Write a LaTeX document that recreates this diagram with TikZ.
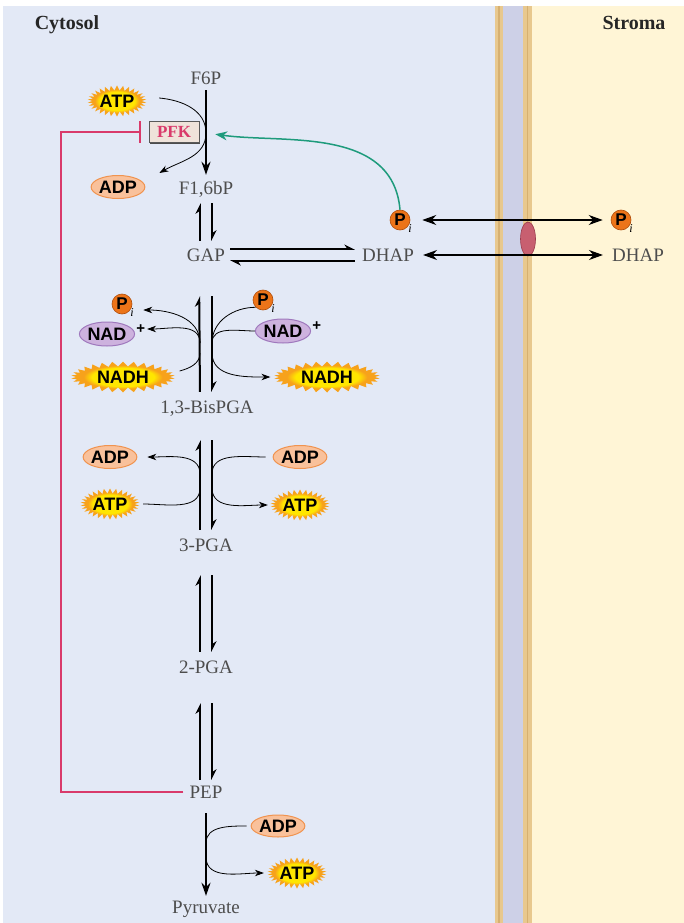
\documentclass[tikz,border=0pt]{standalone}
\usepackage{fontspec}
\setmainfont{Liberation Serif}
\setsansfont{Liberation Sans}
\usetikzlibrary{arrows.meta,shapes.geometric,shapes.symbols,shadows}

\definecolor{cytblue}{HTML}{E3E9F6}
\definecolor{stromacream}{HTML}{FFF5D6}
\definecolor{memlav}{HTML}{CDD0E7}
\definecolor{memorange}{HTML}{E8C88E}
\definecolor{memline}{HTML}{D6B071}
\definecolor{metgray}{HTML}{4D4D4D}
\definecolor{burstyellow}{HTML}{FFE600}
\definecolor{burstorange}{HTML}{F7A21B}
\definecolor{adpfill}{HTML}{F9C19B}
\definecolor{adpdraw}{HTML}{F0934F}
\definecolor{nadfill}{HTML}{CDB2DE}
\definecolor{naddraw}{HTML}{9F78BD}
\definecolor{pifill}{HTML}{EC7419}
\definecolor{pidraw}{HTML}{B04E0C}
\definecolor{pigreen}{HTML}{1E9B7C}
\definecolor{inhred}{HTML}{D93A6B}
\definecolor{pfkfill}{HTML}{EFE3DA}
\definecolor{transred}{HTML}{C85F70}
\definecolor{transdraw}{HTML}{9A3B4C}

\pgfdeclareradialshading{burstshade}{\pgfpoint{0bp}{0bp}}{%
  color(0bp)=(burstyellow); color(15bp)=(burstyellow);
  color(19bp)=(burstorange); color(25bp)=(burstorange); color(50bp)=(burstorange)}

\tikzset{
  met/.style={font=\fontsize{19}{21}\selectfont, text=metgray, inner sep=0pt,
    text height=13pt, text depth=0pt},
  hdr/.style={font=\fontsize{20}{22}\selectfont\bfseries, text=black!85},
  mol/.style={font=\sffamily\bfseries\fontsize{18}{19}\selectfont, text=black, inner sep=0pt},
  burst/.style={mol, shape=starburst, starburst points=30, starburst point height=5pt,
    random starburst=0, shade, shading=burstshade},
  adpnode/.style={mol, ellipse, fill=adpfill, draw=adpdraw, line width=1pt,
    minimum width=50pt, minimum height=23pt},
  nadnode/.style={mol, ellipse, fill=nadfill, draw=naddraw, line width=1pt,
    minimum width=48pt, minimum height=24pt,
    label={[mol, font=\sffamily\bfseries\fontsize{15}{15}\selectfont, anchor=west, label distance=3pt]10:+}},
  pisub/.style={font=\itshape\fontsize{12}{12}\selectfont, inner sep=0pt, anchor=north west},
  pinode/.style={circle, fill=pifill, draw=pidraw, line width=0.6pt, minimum size=20pt,
    inner sep=0pt, font=\sffamily\bfseries\fontsize{17}{17}\selectfont,
    label={[pisub, label distance=-1pt]-30:i}},
  pfkbox/.style={draw=black!65, fill=pfkfill, line width=0.8pt, minimum width=50pt,
    minimum height=21pt, inner sep=0pt, text=inhred,
    font=\fontsize{17}{18}\selectfont\bfseries,
    drop shadow={shadow xshift=1.3pt, shadow yshift=-1.3pt, fill=black!70, opacity=1}},
  carrier/.style={ellipse, fill=transred, draw=transdraw, line width=0.6pt,
    minimum width=15pt, minimum height=34pt, inner sep=0pt},
  mainarr/.style={line width=2pt, -{Stealth[length=13pt,width=9pt]}},
  eqarr/.style={line width=2pt, -{Stealth[harpoon,length=9pt,width=9pt]}},
  side/.style={line width=0.8pt},
  sidearr/.style={line width=0.8pt, -{Stealth[length=9pt,width=6.5pt]}},
  trarr/.style={line width=1.5pt, {Stealth[length=14pt,width=10pt]}-{Stealth[length=14pt,width=10pt]}},
  greenarr/.style={draw=pigreen, line width=1.5pt, -{Stealth[length=12pt,width=9pt]}},
  inhib/.style={draw=inhred, line width=2pt, -{Bar[width=21pt]}}
}

\begin{document}
\begin{tikzpicture}[x=1pt,y=1pt]

% 背景与膜
\useasboundingbox (0,0) rectangle (684,-923);
\fill[white] (0,0) rectangle (684,-923);
\fill[cytblue] (3,-6) rectangle (495,-923);
\fill[memorange] (495,-6) rectangle (503,-923);
\fill[memlav] (503,-6) rectangle (523,-923);
\fill[memorange] (523,-6) rectangle (532,-923);
\fill[stromacream] (532,-6) rectangle (684,-923);
\draw[memline, line width=1.2pt] (499,-6) -- (499,-923);
\draw[memline, line width=1.2pt] (527.5,-6) -- (527.5,-923);

% 标题
\node[hdr] (cyt) at (67,-25) {Cytosol};
\node[hdr] (str) at (634,-23) {Stroma};

% 主链代谢物
\node[met] (f6p)   at (206,-78)  {F6P};
\node[met] (f16bp) at (206,-188) {F1,6bP};
\node[met] (gap)   at (206,-255) {GAP};
\node[met] (dhap)  at (388,-255) {DHAP};
\node[met] (bpga)  at (207,-407) {1,3-BisPGA};
\node[met] (pga3)  at (206,-545) {3-PGA};
\node[met] (pga2)  at (206,-667) {2-PGA};
\node[met] (pep)   at (206,-792) {PEP};
\node[met] (pyr)   at (206,-907) {Pyruvate};
\node[met] (dhaps) at (638,-255) {DHAP};

% 磷酸转运体
\node[pinode] (pil) at (400,-220) {P};
\node[pinode] (pis) at (621,-220) {P};
\node[carrier] (trans) at (528,-239) {};

% PFK 步骤
\node[burst, minimum width=58pt, minimum height=31pt] (atp1) at (117,-101) {ATP};
\node[pfkbox] (pfk) at (174,-132) {PFK};
\node[adpnode] (adp1) at (118,-187) {ADP};

% GAP 脱氢酶步骤
\node[pinode] (pi2l) at (122,-304) {P};
\node[nadnode] (nad2l) at (107,-334) {NAD};
\node[burst, minimum width=104pt, minimum height=31pt] (nadh2l) at (123,-377) {NADH};
\node[pinode] (pi2r) at (263,-300) {P};
\node[nadnode] (nad2r) at (283,-331) {NAD};
\node[burst, minimum width=106pt, minimum height=31pt] (nadh2r) at (327,-377) {NADH};

% PGK 步骤
\node[adpnode] (adp3l) at (110,-457) {ADP};
\node[burst, minimum width=57pt, minimum height=31pt] (atp3l) at (110,-504) {ATP};
\node[adpnode] (adp3r) at (300,-457) {ADP};
\node[burst, minimum width=57pt, minimum height=31pt] (atp3r) at (300,-505) {ATP};

% 丙酮酸激酶步骤
\node[adpnode, minimum width=52pt, minimum height=22pt] (adp5) at (278,-826) {ADP};
\node[burst, minimum width=57pt, minimum height=31pt] (atp5) at (297,-873) {ATP};

% 侧链接点
\coordinate (k1)  at (206,-133);
\coordinate (j2a) at (200,-343);
\coordinate (j2b) at (200,-353);
\coordinate (j2c) at (212,-343);
\coordinate (j2d) at (212,-353);
\coordinate (j3a) at (200,-474);
\coordinate (j3b) at (200,-488);
\coordinate (j3c) at (212,-474);
\coordinate (j3d) at (212,-488);
\coordinate (j5a) at (206,-843);
\coordinate (j5b) at (206,-857);
\coordinate (rk)  at (61,-460);

% 不可逆步骤
\draw[mainarr, shorten <=5.5pt, shorten >=6.5pt] (f6p.south) -- (f16bp.north);
\draw[mainarr, shorten <=14.5pt, shorten >=4.5pt] (pep.south) -- (pyr.north);

% 可逆步骤（上行在左，下行在右）
\draw[eqarr, shorten <=7.5pt, shorten >=8.5pt] ([xshift=-6pt]gap.north) -- ([xshift=-6pt]f16bp.south);
\draw[eqarr, shorten <=8.5pt, shorten >=7.5pt] ([xshift=6pt]f16bp.south) -- ([xshift=6pt]gap.north);
\draw[eqarr, shorten <=8.5pt, shorten >=34.5pt] ([xshift=-7pt]bpga.north) -- ([xshift=-7pt]gap.south);
\draw[eqarr, shorten <=34.5pt, shorten >=8.5pt] ([xshift=6pt]gap.south) -- ([xshift=5pt]bpga.north);
\draw[eqarr, shorten <=8.5pt, shorten >=26.5pt] ([xshift=-6pt]pga3.north) -- ([xshift=-7pt]bpga.south);
\draw[eqarr, shorten <=26.5pt, shorten >=8.5pt] ([xshift=5pt]bpga.south) -- ([xshift=6pt]pga3.north);
\draw[eqarr, shorten <=8.5pt, shorten >=23.5pt] ([xshift=-6pt]pga2.north) -- ([xshift=-6pt]pga3.south);
\draw[eqarr, shorten <=23.5pt, shorten >=8.5pt] ([xshift=6pt]pga3.south) -- ([xshift=6pt]pga2.north);
\draw[eqarr, shorten <=5.5pt, shorten >=29.5pt] ([xshift=-6pt]pep.north) -- ([xshift=-6pt]pga2.south);
\draw[eqarr, shorten <=29.5pt, shorten >=5.5pt] ([xshift=6pt]pga2.south) -- ([xshift=6pt]pep.north);
\draw[eqarr, shorten <=5pt, shorten >=7pt] ([yshift=6pt]gap.east) -- ([yshift=6pt]dhap.west);
\draw[eqarr, shorten <=7pt, shorten >=5pt] ([yshift=-6pt]dhap.west) -- ([yshift=-6pt]gap.east);

% 跨膜交换
\draw[trarr, shorten <=12pt, shorten >=8pt] (pil.east) -- (pis.west);
\draw[trarr, shorten <=9pt, shorten >=9pt] (dhap.east) -- (dhaps.west);

% 调控
\draw[greenarr, shorten >=16pt] (pil.north) to[out=95,in=-8] (pfk.east);
\draw[inhib, shorten <=6pt, shorten >=8pt] (pep.west) -| (rk) |- (pfk.west);

% 辅因子弧线
\draw[sidearr] ([shift={(17pt,3pt)}]atp1.east) to[out=-5,in=90] (k1)
  to[out=-90,in=30] ([shift={(14pt,14pt)}]adp1.east);

\draw[sidearr] (j2a) to[out=90,in=0] ([shift={(11pt,-6pt)}]pi2l.east);
\draw[sidearr] (j2a) to[out=90,in=0] ([shift={(12pt,5pt)}]nad2l.east);
\draw[side] ([shift={(9pt,6pt)}]nadh2l.east) to[out=15,in=-90] (j2b);
\draw[side] (pi2r.south west) to[out=180,in=90] (j2c);
\draw[side] (nad2r.west) to[out=180,in=90] (j2c);
\draw[sidearr] (j2d) to[out=-90,in=180] ([xshift=-8pt]nadh2r.west);

\draw[sidearr] (j3a) to[out=90,in=0] ([xshift=10pt]adp3l.east);
\draw[side] ([xshift=8pt]atp3l.east) to[out=0,in=-90] (j3b);
\draw[side] ([xshift=-7pt]adp3r.west) to[out=180,in=90] (j3c);
\draw[sidearr] (j3d) to[out=-90,in=180] ([xshift=-7pt]atp3r.west);

\draw[side] ([xshift=-4pt]adp5.west) to[out=180,in=90] (j5a);
\draw[sidearr] (j5b) to[out=-90,in=180] ([xshift=-8pt]atp5.west);

\end{tikzpicture}
\end{document}
